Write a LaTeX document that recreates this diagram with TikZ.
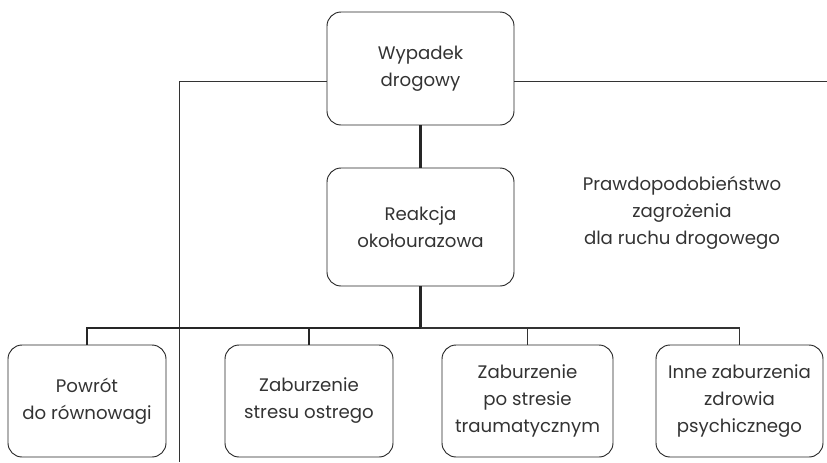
\documentclass[tikz,border=0pt]{standalone}
\usepackage{fontspec}
\setmainfont{Poppins}
\usetikzlibrary{positioning}
\definecolor{tekst}{HTML}{333333}

\tikzset{
  pole/.style={draw=black!85, line width=0.8pt, rounded corners=12pt, text=tekst,
    align=center, font=\fontsize{15.5}{23}\selectfont},
  gruba/.style={line width=2pt, black!85},
  cienka/.style={line width=0.8pt, black!80}
}

\begin{document}
\begin{tikzpicture}[x=0.03cm, y=-0.03cm]
\useasboundingbox (0,0) rectangle (827,462);

\node[pole, minimum width=5.61cm, minimum height=3.39cm] (A) at (420.5,68.5) {Wypadek\\drogowy};
\node[pole, minimum width=5.61cm, minimum height=3.54cm] (B) at (420.5,227) {Reakcja\\okołourazowa};

\node[text=tekst, align=center, font=\fontsize{15.5}{23}\selectfont] (P) at (682,213) {Prawdopodobieństwo\\zagrożenia\\dla ruchu drogowego};

\node[pole, minimum width=4.74cm, minimum height=3.36cm] (C) at (87,401) {Powrót\\do równowagi};
\node[pole, minimum width=5.04cm, minimum height=3.36cm] (D) at (309,401) {Zaburzenie\\stresu ostrego};
\node[pole, minimum width=5.13cm, minimum height=3.36cm] (E) at (527.5,401) {Zaburzenie\\po stresie\\traumatycznym};
\node[pole, minimum width=5.01cm, minimum height=3.36cm] (F) at (739.5,401) {Inne zaburzenia\\zdrowia\\psychicznego};

\coordinate (L) at (179,81);
\coordinate (LD) at (179,462);
\coordinate (R) at (827,81);
\coordinate (S) at (420.5,328);

\draw[cienka] (A.west |- L) -- (L) -- (LD);
\draw[cienka] (A.east |- R) -- (R);

\draw[gruba] (A) -- (B);
\draw[gruba] (B) -- (S);
\draw[gruba] (S) -| (C);
\draw[gruba] (S) -| (D);
\draw[cienka, line width=1.2pt] (S) -| (E);
\draw[cienka, line width=1.2pt] (S) -| (F);

\end{tikzpicture}
\end{document}
